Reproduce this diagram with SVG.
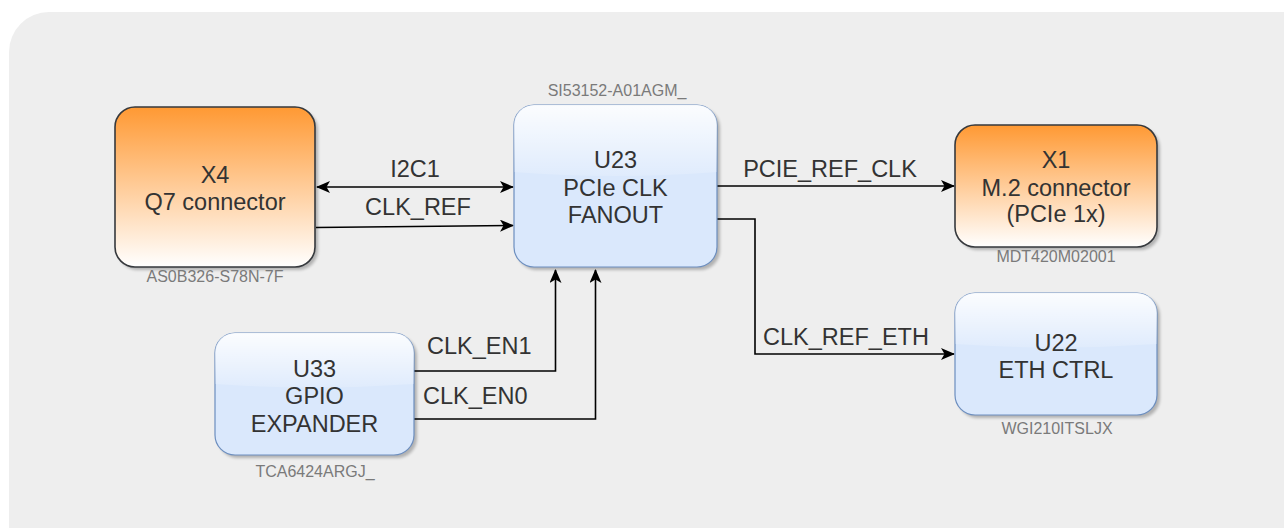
<svg xmlns="http://www.w3.org/2000/svg" width="1284" height="528" viewBox="0 0 1284 528">
  <style>
    .t { font-family: "Liberation Sans", Arial, sans-serif; font-size: 23.5px; fill: #333333; text-anchor: middle; }
    .lbl { font-family: "Liberation Sans", Arial, sans-serif; font-size: 23.5px; fill: #333333; }
    .pn { font-family: "Liberation Sans", Arial, sans-serif; font-size: 16px; fill: #7a7a7a; text-anchor: middle; }
    .conn { fill: none; stroke: #000000; stroke-width: 1.6; }
    .orange { fill: url(#gOrange); stroke: #36393d; stroke-width: 1.6; }
    .blue { fill: #dae8fc; stroke: #6c8ebf; stroke-width: 1.2; }
    .glass { fill: url(#gGlass); }
    .shadow { fill: #000000; opacity: 0.25; filter: url(#blur); }
  </style>
  <defs>
    <linearGradient id="gOrange" x1="0" y1="0" x2="0" y2="1">
      <stop offset="0" stop-color="#ff9933"/>
      <stop offset="1" stop-color="#ffffff"/>
    </linearGradient>
    <linearGradient id="gGlass" x1="0" y1="0" x2="0" y2="1">
      <stop offset="0" stop-color="#ffffff" stop-opacity="0.9"/>
      <stop offset="1" stop-color="#ffffff" stop-opacity="0.15"/>
    </linearGradient>
    <filter id="blur" x="-10%" y="-10%" width="120%" height="120%">
      <feGaussianBlur stdDeviation="1.5"/>
    </filter>
    <marker id="arrow" viewBox="0 0 14 12" refX="13" refY="6" markerWidth="14" markerHeight="12" markerUnits="userSpaceOnUse" orient="auto-start-reverse">
      <path d="M0,0 L14,6 L0,12 L3.5,6 Z" fill="#000000"/>
    </marker>
  </defs>

  <!-- page background -->
  <rect x="9" y="12" width="1320" height="560" rx="40" ry="40" fill="#eeeeee"/>

  <!-- connectors -->
  <g id="connectors">
    <line class="conn" x1="317" y1="187" x2="513" y2="187" marker-start="url(#arrow)" marker-end="url(#arrow)"/>
    <line class="conn" x1="316" y1="227.5" x2="513" y2="225.5" marker-end="url(#arrow)"/>
    <line class="conn" x1="717" y1="186" x2="954" y2="186" marker-end="url(#arrow)"/>
    <polyline class="conn" points="717,219 755,219 755,354 954,354" marker-end="url(#arrow)"/>
    <polyline class="conn" points="414,371 555.5,371 555.5,270" marker-end="url(#arrow)"/>
    <polyline class="conn" points="414,419 595.5,419 595.5,270" marker-end="url(#arrow)"/>
    <text class="lbl" x="415" y="177" text-anchor="middle">I2C1</text>
    <text class="lbl" x="418" y="215" text-anchor="middle">CLK_REF</text>
    <text class="lbl" x="830" y="177" text-anchor="middle">PCIE_REF_CLK</text>
    <text class="lbl" x="846" y="345" text-anchor="middle">CLK_REF_ETH</text>
    <text class="lbl" x="427" y="354">CLK_EN1</text>
    <text class="lbl" x="423" y="404">CLK_EN0</text>
  </g>

  <!-- X4: Q7 connector -->
  <g id="x4">
    <rect class="shadow" x="118" y="110" width="200" height="160" rx="20"/>
    <rect class="orange" x="115" y="107" width="200" height="160" rx="20"/>
    <text class="t" x="215" y="183">X4</text>
    <text class="t" x="215" y="210">Q7 connector</text>
    <text class="pn" x="215" y="282">AS0B326-S78N-7F</text>
  </g>

  <!-- U23: PCIe clock fanout -->
  <g id="u23">
    <rect class="shadow" x="517" y="108" width="203" height="162" rx="20"/>
    <rect class="blue" x="514" y="105" width="203" height="162" rx="20"/>
    <path class="glass" d="M534,105 H697 A20,20 0 0 1 717,125 V172 Q615,180 514,172 V125 A20,20 0 0 1 534,105 Z"/>
    <text class="t" x="615.5" y="168">U23</text>
    <text class="t" x="615.5" y="195.5">PCIe CLK</text>
    <text class="t" x="615.5" y="223">FANOUT</text>
    <text class="pn" x="617" y="96">SI53152-A01AGM_</text>
  </g>

  <!-- X1: M.2 connector -->
  <g id="x1">
    <rect class="shadow" x="958" y="128" width="202" height="122" rx="20"/>
    <rect class="orange" x="955" y="125" width="202" height="122" rx="20"/>
    <text class="t" x="1056" y="168">X1</text>
    <text class="t" x="1056" y="195.5">M.2 connector</text>
    <text class="t" x="1056" y="222">(PCIe 1x)</text>
    <text class="pn" x="1056" y="262">MDT420M02001</text>
  </g>

  <!-- U33: GPIO expander -->
  <g id="u33">
    <rect class="shadow" x="218" y="336" width="199" height="122" rx="20"/>
    <rect class="blue" x="215" y="333" width="199" height="122" rx="20"/>
    <path class="glass" d="M235,333 H394 A20,20 0 0 1 414,353 V384 Q314,391 215,384 V353 A20,20 0 0 1 235,333 Z"/>
    <text class="t" x="314.5" y="377">U33</text>
    <text class="t" x="314.5" y="404">GPIO</text>
    <text class="t" x="314.5" y="431.5">EXPANDER</text>
    <text class="pn" x="315" y="477">TCA6424ARGJ_</text>
  </g>

  <!-- U22: Ethernet controller -->
  <g id="u22">
    <rect class="shadow" x="958" y="296" width="202" height="122" rx="20"/>
    <rect class="blue" x="955" y="293" width="202" height="122" rx="20"/>
    <path class="glass" d="M975,293 H1137 A20,20 0 0 1 1157,313 V344 Q1056,351 955,344 V313 A20,20 0 0 1 975,293 Z"/>
    <text class="t" x="1056" y="351">U22</text>
    <text class="t" x="1056" y="378">ETH CTRL</text>
    <text class="pn" x="1057" y="434">WGI210ITSLJX</text>
  </g>
</svg>
